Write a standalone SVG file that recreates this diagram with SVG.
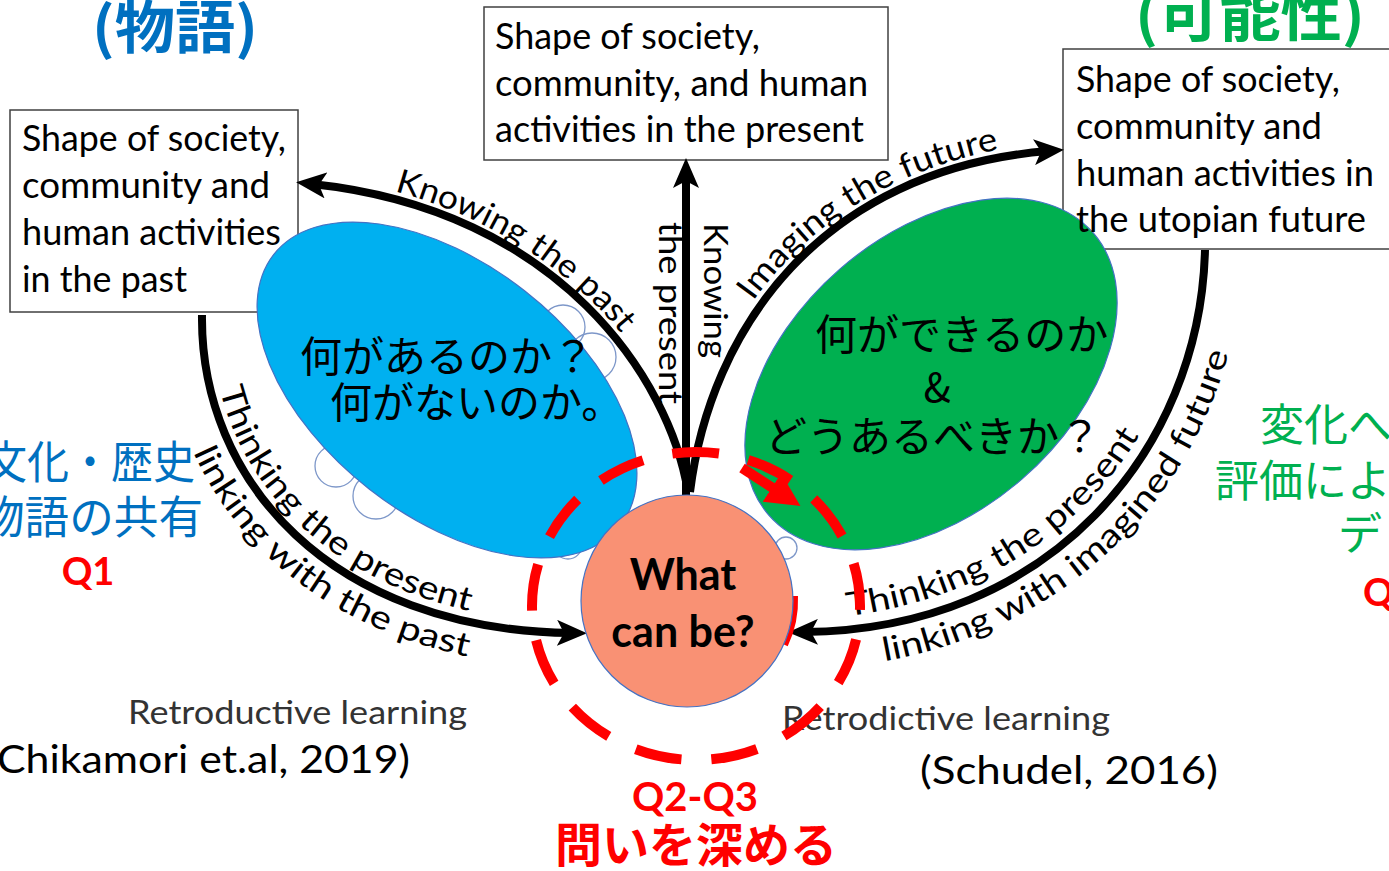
<svg xmlns="http://www.w3.org/2000/svg" xmlns:xlink="http://www.w3.org/1999/xlink" width="1389" height="871" viewBox="0 0 1389 871">
<style>
.box{fill:#fff;stroke:#404040;stroke-width:1.5}
.bt{font-family:Lato,"Liberation Sans",sans-serif;font-size:36px;fill:#000}
.cl{font-family:Lato,"Liberation Sans",sans-serif;font-size:33px;fill:#000}
.jp{font-family:"Noto Sans CJK JP",sans-serif}
.con{fill:none;stroke:#000;stroke-width:8}
.cloud{fill:none;stroke:#7d97c9;stroke-width:1.3}
.en{font-family:Lato,"Liberation Sans",sans-serif}
.blue{fill:#0070C0}
.green{fill:#00B050}
.red{fill:#f00}
.blk{fill:#000}
</style>
<defs>
<marker id="ah" markerUnits="userSpaceOnUse" markerWidth="30" markerHeight="26" refX="14" refY="13" orient="auto">
<path d="M0,0 L30,13 L0,26 L7,13 Z" fill="#000"/>
</marker>
<marker id="ahr" markerUnits="userSpaceOnUse" markerWidth="34" markerHeight="34" refX="12" refY="17" orient="auto">
<path d="M0,0 L34,17 L0,34 Z" fill="#f00"/>
</marker>
<path id="tp1" d="M300,174 C562,200 679,378 697,490"/>
<path id="tp3" d="M681,491 C701,326 815,161 1060,141"/>
<path id="tp4in" d="M211,315 C209,474 334,621 585,624"/>
<path id="tp4out" d="M166,318 C164,505 318,667 585,669"/>
<path id="tp5in" d="M790,620 C1040,617 1188,443 1192,252"/>
<path id="tp5out" d="M790,670 C1068,668 1238,470 1243,252"/>
</defs>
<rect width="1389" height="871" fill="#fff"/>

<g id="past-box"><rect class="box" x="10" y="110" width="288" height="202"/></g>
<g id="present-box"><rect class="box" x="484" y="7" width="404" height="153"/></g>
<g id="future-box"><rect class="box" x="1063" y="49" width="340" height="200"/></g>

<g id="connectors">
<path class="con" d="M688,492 C670,380 560,210 312,184" marker-end="url(#ah)"/>
<path class="con" d="M686,495 L686,174" marker-end="url(#ah)"/>
<path class="con" d="M690,492 C710,330 820,170 1048,151" marker-end="url(#ah)"/>
<path class="con" d="M202,315 C200,480 330,630 571,633" marker-end="url(#ah)"/>
<path class="con" d="M1205,250 C1200,450 1050,630 804,632" marker-end="url(#ah)"/>
</g>

<g id="clouds">
<circle class="cloud" cx="563" cy="327" r="22"/>
<circle class="cloud" cx="592" cy="357" r="24"/>
<circle class="cloud" cx="336" cy="466" r="21"/>
<circle class="cloud" cx="376" cy="496" r="23"/>
<circle class="cloud" cx="568" cy="545" r="14"/>
<circle class="cloud" cx="786" cy="548" r="11"/>
</g>

<g id="blue-ellipse">
<ellipse cx="447" cy="390" rx="220" ry="126" transform="rotate(38 447 390)" fill="#00B0F0" stroke="#4472C4" stroke-width="1.2"/>
<text class="jp blk" font-size="42" x="300" y="372">何があるのか？</text>
<text class="jp blk" font-size="42" x="330" y="418">何がないのか。</text>
</g>

<g id="green-ellipse">
<ellipse cx="931" cy="374" rx="215" ry="139" transform="rotate(-41 931 374)" fill="#00B050" stroke="#4472C4" stroke-width="1.2"/>
<text class="jp blk" font-size="42" x="815" y="350">何ができるのか</text>
<text class="jp blk" font-size="40" x="937" y="402" text-anchor="middle">&amp;</text>
<text class="jp blk" font-size="42" x="765" y="452">どうあるべきか？</text>
</g>

<g id="what-can-be">
<path d="M795,596 A105 105 0 0 1 785,645" fill="none" stroke="#f00" stroke-width="6"/>
<circle cx="687" cy="601" r="106" fill="#F99174" stroke="#4472C4" stroke-width="1.2"/>
<text class="en blk" font-size="43" font-weight="700" x="683" y="590" text-anchor="middle">What</text>
<text class="en blk" font-size="43" font-weight="700" x="683" y="647" text-anchor="middle">can be?</text>
</g>

<g id="box-texts">
<text class="bt" x="22" y="151" textLength="264" lengthAdjust="spacingAndGlyphs">Shape of society,</text>
<text class="bt" x="22" y="198" textLength="248" lengthAdjust="spacingAndGlyphs">community and</text>
<text class="bt" x="22" y="245" textLength="259" lengthAdjust="spacingAndGlyphs">human activities</text>
<text class="bt" x="22" y="292" textLength="165" lengthAdjust="spacingAndGlyphs">in the past</text>
<text class="bt" x="495" y="49" textLength="265" lengthAdjust="spacingAndGlyphs">Shape of society,</text>
<text class="bt" x="495" y="96" textLength="373" lengthAdjust="spacingAndGlyphs">community, and human</text>
<text class="bt" x="495" y="142" textLength="369" lengthAdjust="spacingAndGlyphs">activities in the present</text>
<text class="bt" x="1076" y="92" textLength="264" lengthAdjust="spacingAndGlyphs">Shape of society,</text>
<text class="bt" x="1076" y="139" textLength="246" lengthAdjust="spacingAndGlyphs">community and</text>
<text class="bt" x="1076" y="186" textLength="298" lengthAdjust="spacingAndGlyphs">human activities in</text>
<text class="bt" x="1076" y="232" textLength="290" lengthAdjust="spacingAndGlyphs">the utopian future</text>
</g>

<g id="connector-labels">
<text class="cl"><textPath href="#tp1" startOffset="96" textLength="272" lengthAdjust="spacingAndGlyphs">Knowing the past</textPath></text>
<text class="cl" transform="translate(704,223) rotate(90)" textLength="135" lengthAdjust="spacingAndGlyphs">Knowing</text>
<text class="cl" transform="translate(659,222) rotate(90)" textLength="182" lengthAdjust="spacingAndGlyphs">the present</text>
<text class="cl"><textPath href="#tp3" startOffset="205" textLength="296" lengthAdjust="spacingAndGlyphs">Imaging the future</textPath></text>
<text class="cl"><textPath href="#tp4in" startOffset="75" textLength="352" lengthAdjust="spacingAndGlyphs">Thinking the present</textPath></text>
<text class="cl"><textPath href="#tp4out" startOffset="138" textLength="355" lengthAdjust="spacingAndGlyphs">linking with the past</textPath></text>
<text class="cl"><textPath href="#tp5in" startOffset="58" textLength="355" lengthAdjust="spacingAndGlyphs">Thinking the present</textPath></text>
<text class="cl"><textPath href="#tp5out" startOffset="95" textLength="488" lengthAdjust="spacingAndGlyphs">linking with imagined future</textPath></text>
</g>

<g id="titles">
<text class="jp blue" font-size="57" font-weight="700" x="92" y="48" textLength="166" lengthAdjust="spacingAndGlyphs">(物語)</text>
<text class="jp green" font-size="57" font-weight="700" x="1135" y="36" textLength="230" lengthAdjust="spacingAndGlyphs">(可能性)</text>
</g>

<g id="left-notes">
<text class="jp blue" font-size="45" x="-15" y="479" textLength="210" lengthAdjust="spacingAndGlyphs">文化・歴史</text>
<text class="jp blue" font-size="45" x="-20" y="534" textLength="223" lengthAdjust="spacingAndGlyphs">物語の共有</text>
<text class="en red" font-size="38" font-weight="700" x="88" y="585" text-anchor="middle">Q1</text>
</g>

<g id="right-notes">
<text class="jp green" font-size="44" x="1260" y="441">変化へ</text>
<text class="jp green" font-size="44" x="1215" y="497">評価によ</text>
<text class="jp green" font-size="44" x="1338" y="550">デ</text>
<text class="en red" font-size="38" font-weight="700" x="1363" y="606">Q</text>
</g>

<g id="bottom-notes">
<text class="en" font-size="32" fill="#333" x="128" y="724" textLength="339" lengthAdjust="spacingAndGlyphs">Retroductive learning</text>
<text class="en blk" font-size="38" x="-3" y="773" textLength="413" lengthAdjust="spacingAndGlyphs">Chikamori et.al, 2019)</text>
<text class="en" font-size="32" fill="#333" x="782" y="730" textLength="328" lengthAdjust="spacingAndGlyphs">Retrodictive learning</text>
<text class="en blk" font-size="38" x="920" y="784" textLength="298" lengthAdjust="spacingAndGlyphs">(Schudel, 2016)</text>
<text class="en red" font-size="40" font-weight="700" x="695" y="811" text-anchor="middle">Q2-Q3</text>
<text class="jp red" font-size="47" font-weight="700" x="555" y="862" textLength="282" lengthAdjust="spacingAndGlyphs">問いを深める</text>
</g>

<g id="focus-ring">
<ellipse cx="696" cy="606" rx="164" ry="154" fill="none" stroke="#f00" stroke-width="10" pathLength="1300" stroke-dasharray="61 39" stroke-dashoffset="-44"/>
<path d="M742,468 L782,494" fill="none" stroke="#f00" stroke-width="10" marker-end="url(#ahr)"/>
</g>
</svg>
